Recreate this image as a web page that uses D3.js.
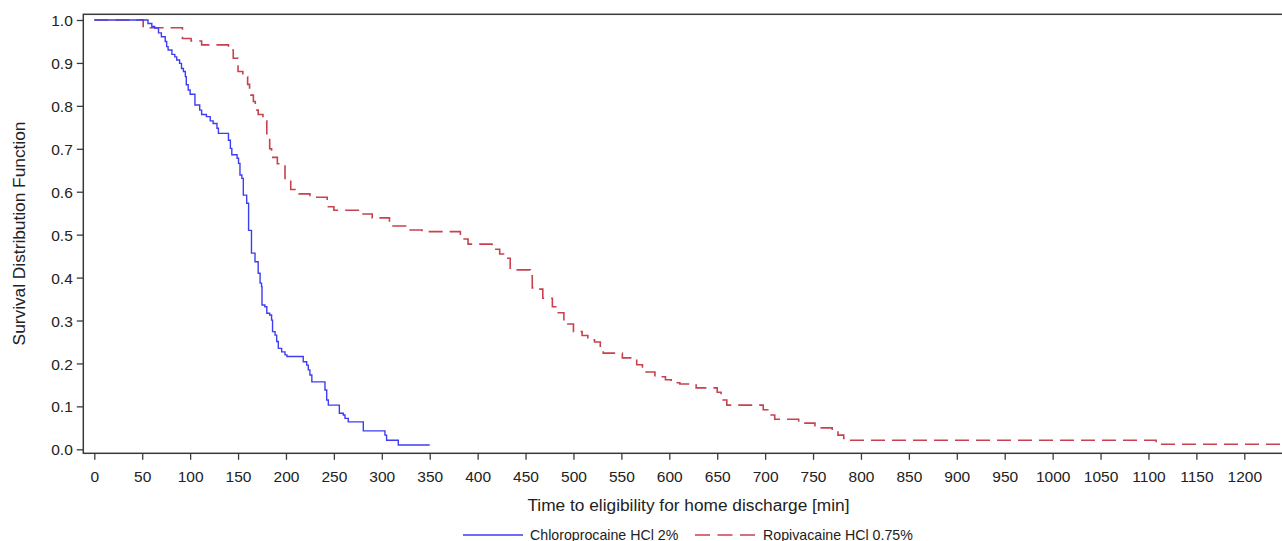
<!DOCTYPE html>
<html>
<head>
<meta charset="utf-8">
<script src="https://cdn.jsdelivr.net/npm/d3@7/dist/d3.min.js"></script>
<style>
  html, body { margin: 0; padding: 0; background: #fff; }
  svg { display: block; }
  text { font-family: "Liberation Sans", Arial, sans-serif; fill: #222; }
</style>
</head>
<body>
<svg id="chart" width="1282" height="541"></svg>
<script>
// ---------- data ----------
const chloroTimes = [0, 56, 60, 63, 67, 70, 74, 75.5, 77, 81, 84, 86, 89, 91, 93, 95, 96, 98, 100, 105, 110, 112, 117, 121, 124, 128, 129.5, 140, 142, 143.5, 149, 150.5, 152, 154, 155.5, 159, 161, 164, 167.7, 171, 173, 174.5, 175, 178, 180, 183, 185, 186, 188.6, 190.3, 192, 195.5, 199, 201, 218, 221.6, 223.3, 225, 227, 240.7, 242.5, 244.2, 255.7, 259.8, 261.6, 265, 280.7, 303.3, 305, 317.2, 350];
const chloroSurv  = [1.0, 0.992, 0.985, 0.981, 0.970, 0.961, 0.950, 0.938, 0.930, 0.920, 0.914, 0.907, 0.899, 0.887, 0.880, 0.868, 0.849, 0.837, 0.827, 0.802, 0.790, 0.780, 0.775, 0.765, 0.759, 0.748, 0.736, 0.720, 0.701, 0.686, 0.678, 0.666, 0.639, 0.631, 0.592, 0.573, 0.510, 0.457, 0.437, 0.410, 0.387, 0.379, 0.336, 0.332, 0.317, 0.313, 0.301, 0.274, 0.266, 0.251, 0.235, 0.227, 0.220, 0.216, 0.204, 0.196, 0.185, 0.173, 0.157, 0.138, 0.115, 0.103, 0.084, 0.080, 0.072, 0.064, 0.043, 0.033, 0.021, 0.010, 0.010];

const ropiTimes = [0, 51, 92, 101, 112, 140, 145, 150, 155, 160, 162, 166, 168, 171, 176, 180, 183, 185, 191, 199, 205, 212, 225, 243, 250, 277, 290, 308, 325, 342, 382, 390, 415, 423, 429, 434, 455, 457, 463, 468, 478, 484, 490, 494, 500, 509, 515, 522, 528, 531, 551, 566, 572, 585, 596, 602, 611, 628, 650, 654, 660, 698, 704, 710, 735, 752, 757, 770, 776, 782, 786, 1108, 1250];
const ropiSurv  = [1.0, 0.982, 0.957, 0.951, 0.942, 0.930, 0.911, 0.880, 0.868, 0.850, 0.825, 0.810, 0.790, 0.780, 0.765, 0.730, 0.700, 0.680, 0.665, 0.627, 0.605, 0.595, 0.587, 0.565, 0.557, 0.548, 0.539, 0.520, 0.511, 0.507, 0.490, 0.478, 0.466, 0.455, 0.445, 0.418, 0.404, 0.376, 0.373, 0.352, 0.332, 0.318, 0.300, 0.292, 0.274, 0.265, 0.255, 0.250, 0.238, 0.224, 0.213, 0.197, 0.180, 0.169, 0.162, 0.155, 0.152, 0.143, 0.133, 0.115, 0.103, 0.092, 0.080, 0.070, 0.061, 0.055, 0.050, 0.042, 0.033, 0.025, 0.021, 0.0116, 0.0116];

const seriesNames = ["Chloroprocaine HCl 2%", "Ropivacaine HCl 0.75%"];
const xTickValues = [0, 50, 100, 150, 200, 250, 300, 350, 400, 450, 500, 550, 600, 650, 700, 750, 800, 850, 900, 950, 1000, 1050, 1100, 1150, 1200];
const yTickValues = [0.0, 0.1, 0.2, 0.3, 0.4, 0.5, 0.6, 0.7, 0.8, 0.9, 1.0];
const xTitle = "Time to eligibility for home discharge [min]";
const yTitle = "Survival Distribution Function";

// ---------- layout ----------
const frame = { left: 83.3, top: 14.3, right: 1284, bottom: 453.3 };
const x = d3.scaleLinear().domain([0, 1200]).range([94.3, 1244.3]);
const y = d3.scaleLinear().domain([0, 1]).range([449.3, 20]);

const svg = d3.select("#chart");

svg.append("defs").append("clipPath").attr("id", "plotclip")
  .append("rect")
  .attr("x", frame.left).attr("y", frame.top)
  .attr("width", frame.right - frame.left).attr("height", frame.bottom - frame.top);

// frame
svg.append("rect")
  .attr("x", frame.left).attr("y", frame.top)
  .attr("width", frame.right - frame.left).attr("height", frame.bottom - frame.top)
  .attr("fill", "none").attr("stroke", "#3a3a3a").attr("stroke-width", 1.5);

// axes
const xAxis = d3.axisBottom(x).tickValues(xTickValues).tickSize(6.5).tickSizeOuter(0)
  .tickFormat(d3.format("d"));
const gx = svg.append("g").attr("transform", `translate(0,${frame.bottom})`).call(xAxis);
gx.select(".domain").remove();
gx.selectAll(".tick line").attr("stroke", "#3a3a3a").attr("stroke-width", 1.3);
gx.selectAll(".tick text").attr("font-size", 15.5).attr("dy", 0).attr("y", 28.5)
  .attr("font-family", "Liberation Sans, Arial, sans-serif").attr("fill", "#222");

const yAxis = d3.axisLeft(y).tickValues(yTickValues).tickSize(6.5).tickSizeOuter(0)
  .tickFormat(d3.format(".1f"));
const gy = svg.append("g").attr("transform", `translate(${frame.left},0)`).call(yAxis);
gy.select(".domain").remove();
gy.selectAll(".tick line").attr("stroke", "#3a3a3a").attr("stroke-width", 1.3);
gy.selectAll(".tick text").attr("font-size", 15.5).attr("x", -10.5).attr("dy", "0.36em")
  .attr("font-family", "Liberation Sans, Arial, sans-serif").attr("fill", "#222");

// titles
svg.append("text").attr("x", (525 + 852) / 2).attr("y", 510.5)
  .attr("text-anchor", "middle").attr("font-size", 17.3).text(xTitle);
svg.append("text")
  .attr("transform", `translate(24.5,${233.5}) rotate(-90)`)
  .attr("text-anchor", "middle").attr("font-size", 17.3).text(yTitle);

// curves
const line = d3.line().x(d => x(d[0])).y(d => y(d[1])).curve(d3.curveStepAfter);
const blueData = chloroTimes.map((t, i) => [t, chloroSurv[i]]);
const redData = ropiTimes.map((t, i) => [t, ropiSurv[i]]);
const blue = "#3d3df2";
const red = "#c8414f";

const plot = svg.append("g").attr("clip-path", "url(#plotclip)");
plot.append("path").datum(redData).attr("d", line)
  .attr("fill", "none").attr("stroke", red).attr("stroke-width", 1.6)
  .attr("stroke-dasharray", "14,7");
plot.append("path").datum(blueData).attr("d", line)
  .attr("fill", "none").attr("stroke", blue).attr("stroke-width", 1.4);

// legend
const lg = svg.append("g");
lg.append("line").attr("x1", 463).attr("x2", 523).attr("y1", 535).attr("y2", 535)
  .attr("stroke", blue).attr("stroke-width", 1.4);
lg.append("text").attr("x", 530).attr("y", 539.5).attr("font-size", 14.2).text(seriesNames[0]);
lg.append("line").attr("x1", 695).attr("x2", 755).attr("y1", 535).attr("y2", 535)
  .attr("stroke", red).attr("stroke-width", 1.6).attr("stroke-dasharray", "15,7.5");
lg.append("text").attr("x", 763).attr("y", 539.5).attr("font-size", 14.2).text(seriesNames[1]);
</script>
</body>
</html>
